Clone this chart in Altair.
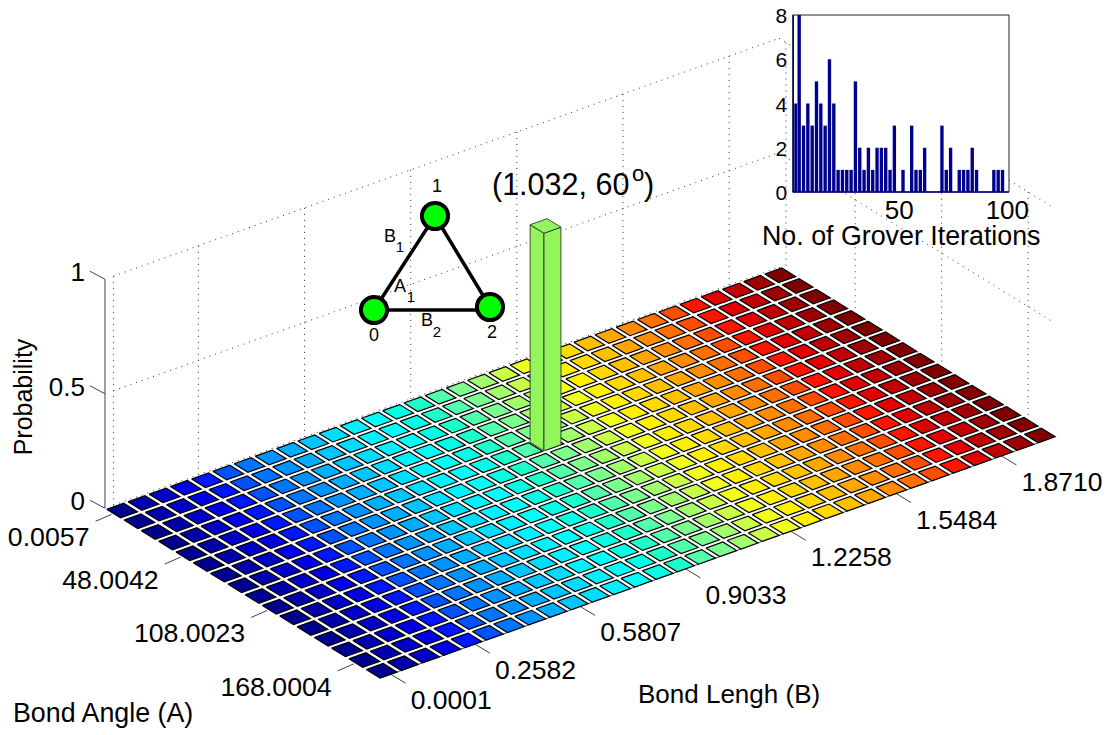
import altair as alt
import pandas as pd

# ---------- data ----------
n_lengths = 32
n_angles = 16
peak_length_index = 16
peak_angle_index = 5
peak_probability = 0.95
length_ticks = ["0.0001", "0.2582", "0.5807", "0.9033", "1.2258", "1.5484", "1.8710"]
length_tick_index = [0, 4, 9, 14, 19, 24, 29]
angle_ticks = ["0.0057", "48.0042", "108.0023", "168.0004"]
angle_tick_index = [0, 4, 9, 14]
prob_ticks = [0, 0.5, 1]
prob_labels = ["0", "0.5", "1"]

hist_centers = [1.2, 2.4, 4, 6, 8, 10, 12, 14, 16, 18, 20, 22, 24, 26, 28, 30, 32, 34, 36, 38, 40, 42, 44, 46, 48,
                52, 56, 58, 60, 62, 70, 72, 74, 78, 80, 82, 84, 86, 94, 96, 98]
hist_counts = [8, 4, 8, 3, 4, 3, 5, 4, 3, 6, 4, 1, 1, 1, 1, 5, 2, 1, 2, 1, 2, 2, 2, 1, 3,
               1, 3, 1, 1, 2, 3, 1, 2, 1, 1, 1, 2, 1, 1, 1, 1]
hist_half_width = [0.4, 0.7] + [0.78] * 39

atoms = ["0", "1", "2"]
atom_u = [374, 435, 490]
atom_v = [310, 216, 307]

# ---------- view geometry (image pixels) ----------
W, H = 1095, 722
X = alt.Scale(domain=[8, 8 + W], range=[0, W])
Y = alt.Scale(domain=[8, 8 + H], range=[0, H])
ORIGIN = (102.85, 509.0)
STEP_C = (21.23, -7.59)
STEP_R = (17.3, 10.68)
Z_PX = 229.0
FONT = "Liberation Sans"


def project(c, r, z=0.0):
    return (ORIGIN[0] + c * STEP_C[0] + r * STEP_R[0],
            ORIGIN[1] + c * STEP_C[1] + r * STEP_R[1] - z * Z_PX)


def polygons(polys, extra):
    rows = []
    for pid, (pts, ex) in enumerate(zip(polys, extra)):
        for k, p in enumerate(pts + pts[:1]):
            rows.append(dict(pid=pid, k=k, x=p[0], y=p[1], **ex))
    return pd.DataFrame(rows)


def segments(segs):
    return pd.DataFrame([dict(x=a[0], y=a[1], x2=b[0], y2=b[1]) for a, b in segs])


def rule_layer(segs, **mark):
    return alt.Chart(segments(segs)).mark_rule(**mark).encode(
        x=alt.X("x:Q", scale=X, axis=None), y=alt.Y("y:Q", scale=Y, axis=None), x2="x2:Q", y2="y2:Q")


def text_layer(rows, **mark):
    return alt.Chart(pd.DataFrame(rows)).mark_text(font=FONT, color="black", **mark).encode(
        x=alt.X("x:Q", scale=X, axis=None), y=alt.Y("y:Q", scale=Y, axis=None), text="t:N")


# ---------- walls ----------
C0, C1, R1 = 0.1, 31.85, 15.9
wall = []
for z in prob_ticks:
    wall.append((project(C0 + 0.4, 0, z), project(C1, 0, z)))
    wall.append((project(C1, 0, z), project(C1, R1, z)))
for i in length_tick_index:
    wall.append((project(i + 0.5, 0, 0), project(i + 0.5, 0, 1)))
for j in angle_tick_index:
    wall.append((project(C1, j + 0.4, 0), project(C1, j + 0.4, 1)))
walls = rule_layer(wall, stroke="#333333", strokeWidth=1, strokeDash=[1, 5])

# ---------- axes ----------
axis_segs = [(project(C0, 0, 0), project(C0, 0, 1)), (project(C0, R1, 0), project(C1, R1, 0))]
z_tips, a_tips, b_tips = [], [], []
for z in prob_ticks:
    p = project(C0, 0, z)
    tip = (p[0] - 15, p[1] - 8)
    axis_segs.append((p, tip))
    z_tips.append(tip)
for j in angle_tick_index:
    p = project(0, j + 0.5)
    tip = (p[0] - 16, p[1] + 7)
    axis_segs.append((p, tip))
    a_tips.append(tip)
for i in length_tick_index:
    p = project(0.6 + 0.992 * i, R1)
    tip = (p[0] + 15, p[1] + 9)
    axis_segs.append((p, tip))
    b_tips.append(tip)
axes = rule_layer(axis_segs, stroke="#444444", strokeWidth=1)

z_text = text_layer([dict(x=t[0], y=t[1], t=l) for t, l in zip(z_tips, prob_labels)],
                    fontSize=26, align="right", baseline="middle", dx=-5, dy=2)
a_text = text_layer([dict(x=t[0], y=t[1], t=l) for t, l in zip(a_tips, angle_ticks)],
                    fontSize=26.7, align="right", baseline="middle", dx=-6, dy=17)
b_text = text_layer([dict(x=t[0], y=t[1], t=l) for t, l in zip(b_tips, length_ticks)],
                    fontSize=26.5, align="left", baseline="middle", dx=5, dy=18)

# ---------- floor of cells ----------
cell_polys, cell_extra = [], []
for r in range(n_angles):
    for c in range(n_lengths):
        cell_polys.append([project(c + 0.1, r + 0.1), project(c + 0.9, r + 0.1),
                           project(c + 0.9, r + 0.9), project(c + 0.1, r + 0.9)])
        cell_extra.append(dict(c=c))
cells = alt.Chart(polygons(cell_polys, cell_extra)).mark_line(
    stroke="black", strokeWidth=1.2, strokeJoin="miter").encode(
    x=alt.X("x:Q", scale=X, axis=None), y=alt.Y("y:Q", scale=Y, axis=None),
    detail="pid:N", order="k:Q",
    fill=alt.Fill("c:Q", legend=None, scale=alt.Scale(
        domain=[0, 3.875, 11.625, 19.375, 27.125, 31],
        range=["#00008f", "#0000ff", "#00ffff", "#ffff00", "#ff0000", "#800000"])))

# ---------- peak bar ----------
c0, c1 = peak_length_index - 0.03, peak_length_index + 0.77
r0, r1 = peak_angle_index + 0.1, peak_angle_index + 0.9
z = peak_probability
bar_polys = [
    [project(c0, r0, 0), project(c0, r1, 0), project(c0, r1, z), project(c0, r0, z)],
    [project(c0, r1, 0), project(c1, r1, 0), project(c1, r1, z), project(c0, r1, z)],
    [project(c0, r0, z), project(c1, r0, z), project(c1, r1, z), project(c0, r1, z)],
]
bar = alt.Chart(polygons(bar_polys, [{}, {}, {}])).mark_line(
    stroke="#222222", strokeWidth=0.8, fill="#93f55c", strokeJoin="miter").encode(
    x=alt.X("x:Q", scale=X, axis=None), y=alt.Y("y:Q", scale=Y, axis=None),
    detail="pid:N", order="k:Q")

# ---------- molecule ----------
bonds = rule_layer([((374, 310), (435, 216)), ((435, 216), (490, 307)), ((374, 310), (490, 310))],
                   stroke="black", strokeWidth=3.5)
circles = alt.Chart(pd.DataFrame(dict(x=atom_u, y=atom_v))).mark_point(
    filled=False, fill="#00ff00", stroke="black", strokeWidth=4, size=680, opacity=1).encode(
    x=alt.X("x:Q", scale=X, axis=None), y=alt.Y("y:Q", scale=Y, axis=None))
mol_text = text_layer([
    dict(x=437, y=187, t="1"), dict(x=374, y=336, t="0"), dict(x=492, y=333, t="2"),
    dict(x=390, y=237, t="B"), dict(x=400, y=287, t="A"), dict(x=427, y=321, t="B"),
], fontSize=18, align="center", baseline="middle")
mol_sub = text_layer([
    dict(x=400, y=247, t="1"), dict(x=411, y=297, t="1"), dict(x=437, y=332, t="2"),
], fontSize=15, align="center", baseline="middle")

# ---------- titles and annotations ----------
titles_27 = text_layer([
    dict(x=13, y=714, t="Bond Angle (A)"),
    dict(x=762, y=237, t="No. of Grover Iterations"),
], fontSize=26.8, align="left", baseline="middle")
titles_26 = text_layer([dict(x=638, y=695, t="Bond Lengh (B)")], fontSize=26, align="left", baseline="middle")
ytitle = text_layer([dict(x=24, y=397, t="Probability")], fontSize=25, angle=270,
                    align="center", baseline="middle")
ann = text_layer([dict(x=492, y=186, t="(1.032, 60"), dict(x=644, y=186, t=")")],
                 fontSize=30.5, align="left", baseline="middle")
ann_sup = text_layer([dict(x=632, y=174, t="o")], fontSize=22, align="left", baseline="middle")

# ---------- inset histogram ----------
IX = alt.Scale(domain=[1, 101], range=[792.7 - 8, 1009 - 8])
IY = alt.Scale(domain=[0, 8], range=[192 - 8, 15 - 8])
hist = pd.DataFrame(dict(lo=[max(1, a - b) for a, b in zip(hist_centers, hist_half_width)],
                         hi=[a + b for a, b in zip(hist_centers, hist_half_width)],
                         n=hist_counts, base=[0] * len(hist_counts)))
box_bg = alt.Chart(pd.DataFrame(dict(a=[1], b=[101], c=[0], d=[8]))).mark_rect(
    fill="white", stroke="#222222", strokeWidth=1).encode(
    x=alt.X("a:Q", scale=IX, axis=alt.Axis(
        values=[50, 100], offset=-(H - 184), domain=False, ticks=False, grid=False, title=None,
        labelFont=FONT, labelFontSize=26, labelColor="black", labelPadding=5, labelFlush=False,
        labelOverlap=False, labelAngle=0)),
    x2="b:Q",
    y=alt.Y("c:Q", scale=IY, axis=alt.Axis(
        values=[0, 2, 4, 6, 8], offset=-(792.7 - 8), domain=False, ticks=False, grid=False, title=None,
        labelFont=FONT, labelFontSize=21, labelColor="black", labelPadding=6, labelFlush=False,
        labelOverlap=False, labelOffset=1.5)),
    y2="d:Q")
hist_bars = alt.Chart(hist).mark_rect(color="#00008f").encode(
    x=alt.X("lo:Q", scale=IX, axis=None), x2="hi:Q",
    y=alt.Y("base:Q", scale=IY, axis=None), y2="n:Q")
hist_base = alt.Chart(pd.DataFrame(dict(a=[1], b=[101], c=[0]))).mark_rule(
    stroke="#00008f", strokeWidth=1.5).encode(
    x=alt.X("a:Q", scale=IX, axis=None), x2="b:Q", y=alt.Y("c:Q", scale=IY, axis=None))

chart = alt.layer(
    walls, axes, cells, bar, bonds, circles, mol_text, mol_sub, z_text, a_text, b_text,
    titles_27, titles_26, ytitle, ann, ann_sup, box_bg, hist_bars, hist_base,
).resolve_scale(x="independent", y="independent").properties(
    width=W, height=H, padding=0, autosize=alt.AutoSizeParams(type="none"),
).configure_view(stroke=None)

chart.save("out.html", embed_options={"renderer": "svg", "actions": False})
